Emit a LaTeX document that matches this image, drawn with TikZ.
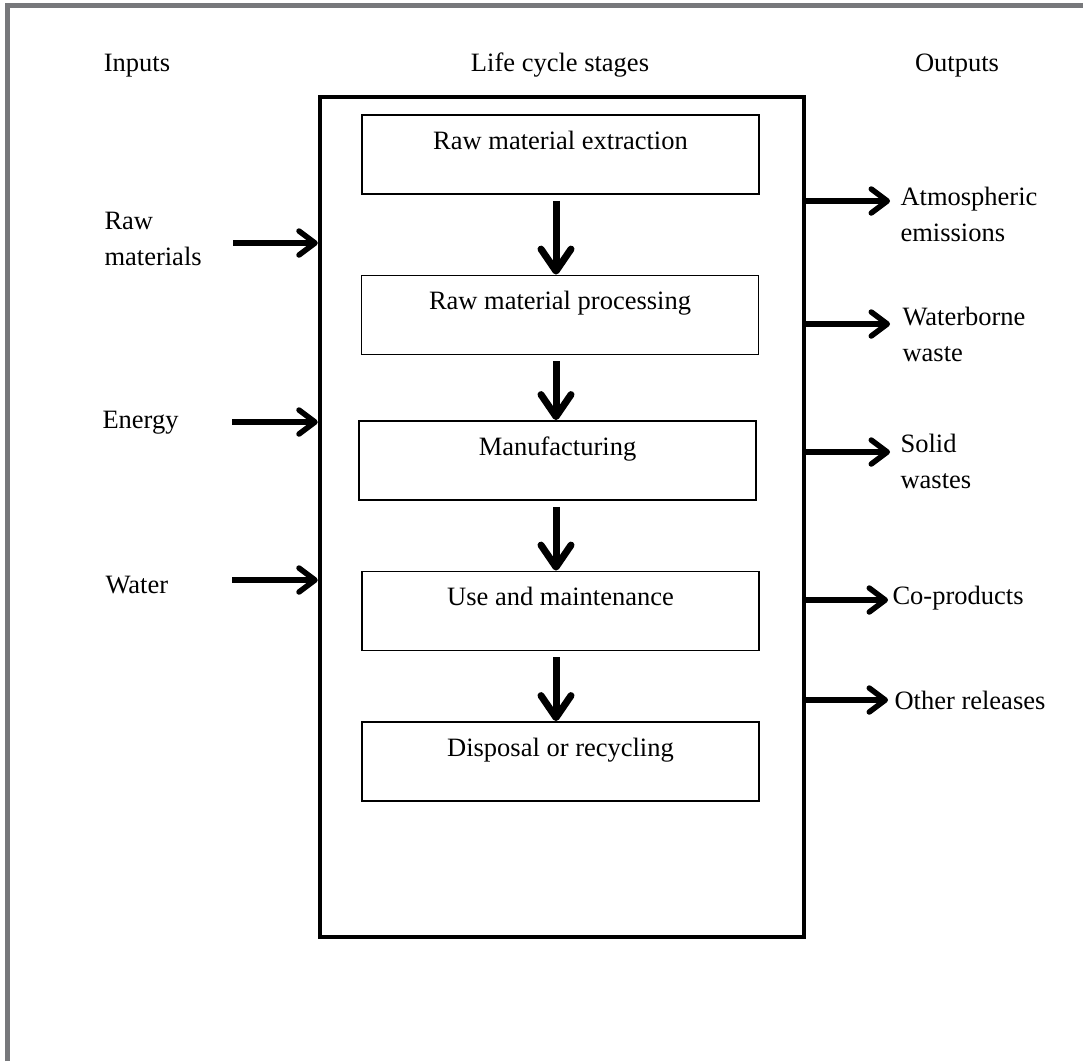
\documentclass[tikz,border=0pt]{standalone}
\usepackage{fontspec}
\setmainfont{Liberation Serif}
\usetikzlibrary{arrows.meta}
\begin{document}
\begin{tikzpicture}[x=1pt,y=-1pt,
  every node/.style={font=\fontsize{26.5}{36}\selectfont},
  stage/.style={draw,line width=1.8pt,minimum width=397pt,minimum height=79pt,text height=18pt,text depth=29pt,inner sep=0pt},
  inarrow/.style={line width=5.5pt,-{Straight Barb[length=16pt,width=24pt,round]}},
  downarrow/.style={line width=7pt,-{Straight Barb[length=22pt,width=30pt,round]}}]
\useasboundingbox (0,0) rectangle (1083,1061);
\draw[line width=5pt,color={rgb,255:red,119;green,120;blue,123}] (7.5,1061) -- (7.5,5.5) -- (1083,5.5);
\node (inputs) at (137,66) {Inputs};
\node (stages) at (560,65) {Life cycle stages};
\node (outputs) at (957,66) {Outputs};
\node[draw,line width=4.5pt,minimum width=484pt,minimum height=840pt,inner sep=0pt] (lc) at (562,517) {};
\node[stage] (s1) at (560.5,154.5) {Raw material extraction};
\node[stage] (s2) at (560,315) {Raw material processing};
\node[stage] (s3) at (557.5,460.5) {Manufacturing};
\node[stage] (s4) at (560.5,611) {Use and maintenance};
\node[stage] (s5) at (560.5,761.5) {Disposal or recycling};
\coordinate (ax) at (556,0);
\foreach \a/\b in {s1/s2,s2/s3,s3/s4,s4/s5}
  \draw[downarrow] ([yshift=-6pt]ax |- \a.south) -- (ax |- \b.north);
\node[anchor=west,align=left] (rawmat) at (101,239) {Raw\\materials};
\node[anchor=west] (energy) at (99,423) {Energy};
\node[anchor=west] (water) at (102,585) {Water};
\coordinate (in1) at (233,243);
\coordinate (in2) at (232,422);
\coordinate (in3) at (232,580);
\foreach \i in {in1,in2,in3}
  \draw[inarrow] (\i) -- (\i -| lc.west);
\node[anchor=west,align=left] (atmo) at (897,214) {Atmospheric\\emissions};
\node[anchor=west,align=left] (water) at (899,334) {Waterborne\\waste};
\node[anchor=west,align=left] (solid) at (897,461) {Solid\\wastes};
\node[anchor=west] (coprod) at (889,598) {Co-products};
\node[anchor=west] (other) at (891,700) {Other releases};
\coordinate (out1) at (890,201);
\coordinate (out2) at (890,324);
\coordinate (out3) at (890,452);
\coordinate (out4) at (888,600);
\coordinate (out5) at (888,700);
\foreach \o in {out1,out2,out3,out4,out5}
  \draw[inarrow] (\o -| lc.east) -- (\o);
\end{tikzpicture}
\end{document}
